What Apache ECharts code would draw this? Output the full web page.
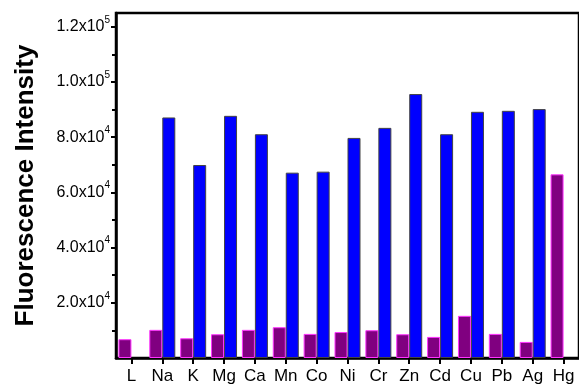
<!DOCTYPE html>
<html>
<head>
<meta charset="utf-8">
<script src="https://cdn.jsdelivr.net/npm/echarts@6/dist/echarts.min.js"></script>
<style>
html,body{margin:0;padding:0;background:#fff;}
#c{width:579px;height:391px;}
</style>
</head>
<body>
<div id="c"></div>
<script>
const categories = ['L','Na','K','Mg','Ca','Mn','Co','Ni','Cr','Zn','Cd','Cu','Pb','Ag','Hg'];
const ligandOnly = [6800,10200,7150,8600,10200,11150,8730,9400,10060,8600,7640,15270,8730,5820,66540];
const withAnalyte = [null,87150,69930,87740,81080,67150,67520,79740,83380,95630,81080,89200,89560,90180,null];
const majorTicks = [20000,40000,60000,80000,100000,120000];
const minorTicks = [10000,30000,50000,70000,90000,110000];
const yTitle = 'Fluorescence Intensity';

function sciLabel(v){
  const e = Math.floor(Math.log10(v));
  const m = (v/Math.pow(10,e)).toFixed(1);
  return '{a|' + m + 'x10}{s|' + e + '}';
}

const chart = echarts.init(document.getElementById('c'));
chart.setOption({
  animation:false,
  backgroundColor:'#fff',
  grid:{left:116,right:-9,top:13,bottom:33,show:true,borderColor:'#000',borderWidth:2.5,backgroundColor:'transparent'},
  xAxis:{
    type:'category',data:categories,
    axisLine:{lineStyle:{color:'#000',width:2.5}},
    axisTick:{show:true,alignWithLabel:true,interval:0,length:6,lineStyle:{color:'#000',width:2}},
    axisLabel:{interval:0,margin:10,color:'#000',fontSize:17,fontFamily:'Liberation Sans, Arial, sans-serif'}
  },
  yAxis:[{
    type:'value',min:0,max:125000,
    name:yTitle,nameLocation:'middle',nameGap:77,
    nameTextStyle:{fontSize:26,fontWeight:'bold',color:'#000',fontFamily:'Liberation Sans, Arial, sans-serif'},
    splitLine:{show:false},
    axisLine:{show:true,lineStyle:{color:'#000',width:2.5}},
    axisTick:{show:true,length:5,customValues:majorTicks,lineStyle:{color:'#000',width:2}},
    axisLabel:{
      margin:6,customValues:majorTicks,
      formatter:sciLabel,
      rich:{
        a:{fontSize:16,color:'#000',fontFamily:'Liberation Sans, Arial, sans-serif',verticalAlign:'bottom',lineHeight:16},
        s:{fontSize:10,color:'#000',fontFamily:'Liberation Sans, Arial, sans-serif',verticalAlign:'bottom',lineHeight:10,padding:[0,0,10,0]}
      }
    }
  },{
    type:'value',min:0,max:125000,position:'left',
    splitLine:{show:false},
    axisLine:{show:false},
    axisLabel:{show:false},
    axisTick:{show:true,length:4,customValues:minorTicks,lineStyle:{color:'#000',width:2}}
  }],
  series:[{
    type:'bar',data:ligandOnly,barWidth:13,barGap:'0%',
    itemStyle:{color:'#800080',borderColor:'#ff33ff',borderWidth:1}
  },{
    type:'bar',data:withAnalyte,barWidth:13,barGap:'0%',
    itemStyle:{color:'#0000ff',borderColor:'#444',borderWidth:1}
  }]
});
</script>
</body>
</html>
